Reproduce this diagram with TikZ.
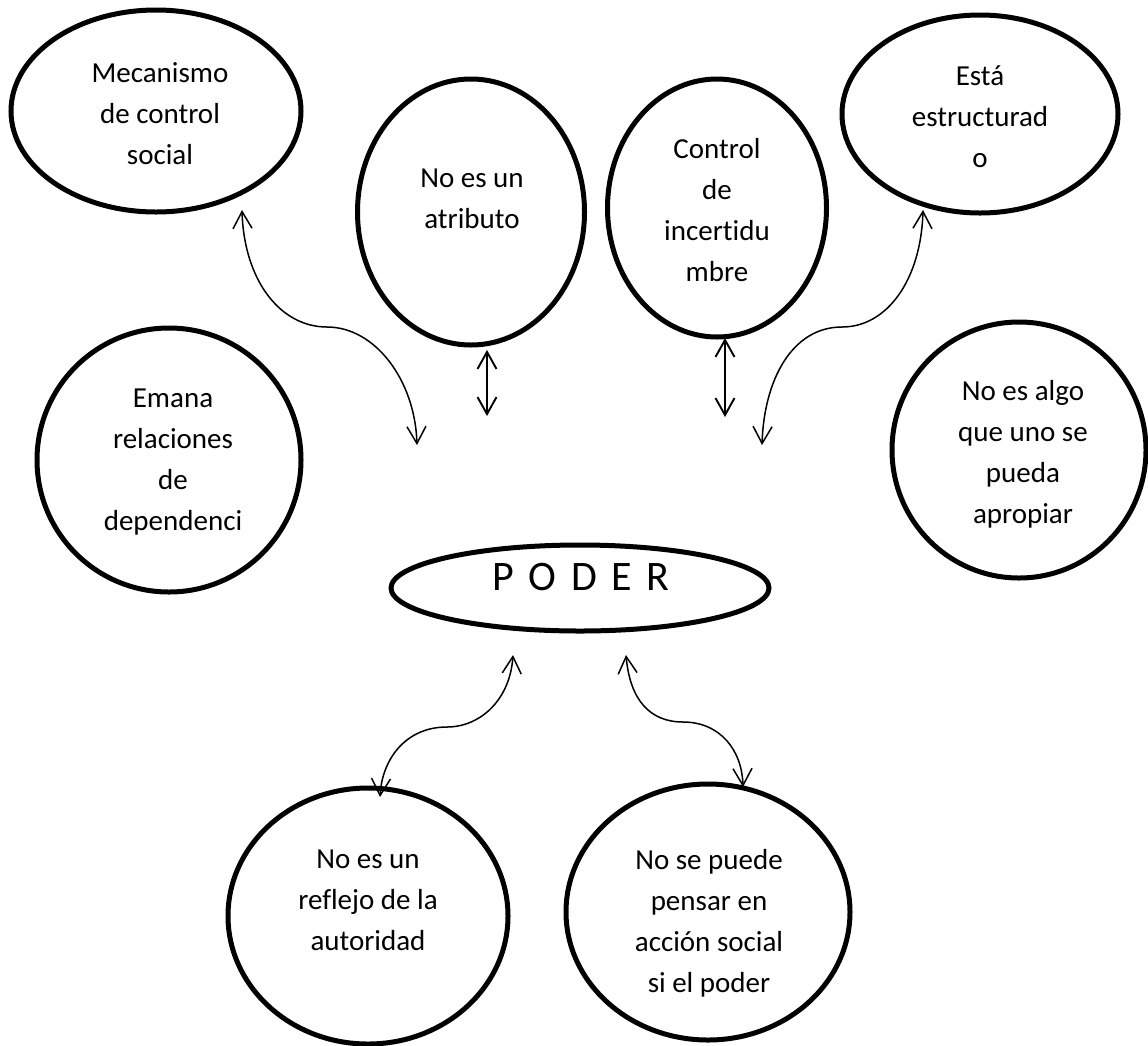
\documentclass[tikz,border=0pt]{standalone}
\usepackage{fontspec}
\setmainfont{Carlito}[Ligatures={NoCommon}]
\usetikzlibrary{arrows.meta,shapes.geometric}
\newcommand\mlines[1]{\begin{tabular}[t]{@{}c@{}}#1\end{tabular}}
\begin{document}
\begin{tikzpicture}[x=1pt,y=-1pt,
  oval/.style={ellipse, draw, line width=5pt, inner sep=0pt},
  txt/.style={anchor=base, inner sep=0pt, font=\fontsize{29}{41}\selectfont},
  link/.style={line width=1.5pt, {Straight Barb[length=17pt,width=19pt]}-{Straight Barb[length=17pt,width=19pt]}},
  vlink/.style={line width=1.9pt, {Straight Barb[length=17pt,width=19pt]}-{Straight Barb[length=17pt,width=19pt]}}
]
\useasboundingbox (0,0) rectangle (1148,1045);

% ellipses
\node[oval, minimum width=290pt, minimum height=202pt] (e1) at (156,111) {};
\node[oval, minimum width=227pt, minimum height=266pt] (e2) at (471,212) {};
\node[oval, minimum width=219pt, minimum height=258pt] (e3) at (717,208) {};
\node[oval, minimum width=276pt, minimum height=198pt] (e4) at (980,114) {};
\node[oval, minimum width=264pt, minimum height=264pt] (e5) at (169,460) {};
\node[oval, minimum width=254pt, minimum height=256pt] (e6) at (1019,450) {};
\node[oval, minimum width=378pt, minimum height=86pt] (poder) at (580,588) {};
\node[oval, minimum width=280pt, minimum height=256pt] (e7) at (368,916) {};
\node[oval, minimum width=284pt, minimum height=256pt] (e8) at (708,912) {};

% texts
\node[txt] (t1) at (160,82) {\mlines{Mecanismo\\de control\\social}};
\node[txt] (t2) at (472,187) {\mlines{No es un\\atributo}};
\node[txt] (t3) at (717,158) {\mlines{Control\\de\\incertidu\\mbre}};
\node[txt] (t4) at (980,85) {\mlines{Está\\estructurad\\o}};
\node[txt] (t5) at (173,407) {\mlines{Emana\\relaciones\\de\\dependenci}};
\node[txt] (t6) at (1023,400) {\mlines{No es algo\\que uno se\\pueda\\apropiar}};
\node[txt] (t7) at (368,868) {\mlines{No es un\\reflejo de la\\autoridad}};
\node[txt] (t8) at (709,869) {\mlines{No se puede\\pensar en\\acción social\\si el poder}};
\node[anchor=base, inner sep=0pt, font=\fontsize{42}{46}\selectfont] (tp) at (581,590)
  {P\hspace{14.5pt}O\hspace{14.5pt}D\hspace{14.5pt}E\hspace{14.5pt}R};

% curved connectors
\coordinate (a1s) at (242,210); \coordinate (a1m) at (327,327); \coordinate (a1e) at (417,445);
\draw[link] (a1s) .. controls (244,280) and (280,327) .. (a1m) .. controls (375,327) and (415,380) .. (a1e);

\coordinate (a2s) at (923,210); \coordinate (a2m) at (842,327); \coordinate (a2e) at (762,445);
\draw[link] (a2s) .. controls (921,280) and (887,327) .. (a2m) .. controls (792,327) and (764,380) .. (a2e);

\coordinate (a3s) at (513,655); \coordinate (a3m) at (447,727); \coordinate (a3e) at (380,797);
\draw[link] (a3s) .. controls (510,700) and (480,727) .. (a3m) .. controls (405,727) and (382,760) .. (a3e);

\coordinate (a4s) at (626,655); \coordinate (a4m) at (683,722); \coordinate (a4e) at (743,787);
\draw[link] (a4s) .. controls (630,700) and (650,722) .. (a4m) .. controls (720,722) and (742,750) .. (a4e);

% straight double arrows
\coordinate (d1a) at (487,350); \coordinate (d1b) at (487,416);
\draw[vlink] (d1a) -- (d1b);
\coordinate (d2a) at (725,338); \coordinate (d2b) at (725,417);
\draw[vlink] (d2a) -- (d2b);
\end{tikzpicture}
\end{document}
